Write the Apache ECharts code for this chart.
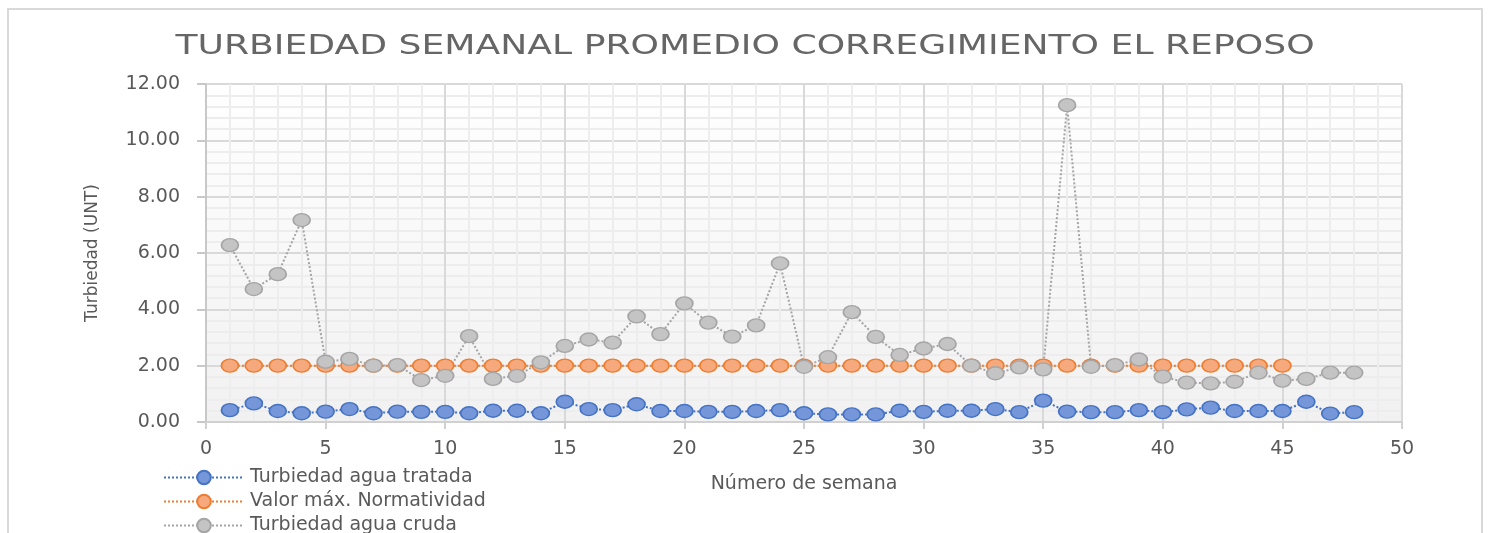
<!DOCTYPE html>
<html>
<head>
<meta charset="utf-8">
<script src="https://cdn.jsdelivr.net/npm/echarts@6/dist/echarts.min.js"></script>
<style>
  html, body { margin: 0; padding: 0; background: #fff; }
  #chart { width: 1488px; height: 533px; }
</style>
</head>
<body>
<div id="chart"></div>
<script>
// Turbiedad semanal promedio - corregimiento El Reposo
var titleText = 'TURBIEDAD SEMANAL PROMEDIO CORREGIMIENTO EL REPOSO';
var seriesNames = ['Turbiedad agua tratada', 'Valor máx. Normatividad', 'Turbiedad agua cruda'];

var weeks = [1, 2, 3, 4, 5, 6, 7, 8, 9, 10, 11, 12, 13, 14, 15, 16, 17, 18, 19, 20, 21, 22, 23, 24,
  25, 26, 27, 28, 29, 30, 31, 32, 33, 34, 35, 36, 37, 38, 39, 40, 41, 42, 43, 44, 45, 46, 47, 48];

var tratada = [0.42, 0.66, 0.39, 0.31, 0.37, 0.46, 0.31, 0.37, 0.36, 0.36,
  0.31, 0.40, 0.40, 0.31, 0.72, 0.46, 0.42, 0.63, 0.39, 0.39,
  0.36, 0.36, 0.39, 0.42, 0.31, 0.27, 0.27, 0.27, 0.40, 0.36,
  0.40, 0.40, 0.46, 0.35, 0.76, 0.37, 0.35, 0.35, 0.42, 0.35,
  0.45, 0.51, 0.39, 0.39, 0.39, 0.72, 0.30, 0.35];

var normatividad = [2, 2, 2, 2, 2, 2, 2, 2, 2, 2, 2, 2, 2, 2, 2, 2, 2, 2, 2, 2, 2, 2, 2,
  2, 2, 2, 2, 2, 2, 2, 2, 2, 2, 2, 2, 2, 2, 2, 2, 2, 2, 2, 2, 2, 2];

var cruda = [6.28, 4.72, 5.25, 7.17, 2.14, 2.24, 2.00, 2.02, 1.49, 1.64,
  3.05, 1.53, 1.64, 2.12, 2.70, 2.93, 2.82, 3.75, 3.12, 4.21,
  3.53, 3.03, 3.43, 5.63, 1.96, 2.30, 3.90, 3.02, 2.38, 2.61,
  2.77, 2.00, 1.73, 1.94, 1.87, 11.25, 1.96, 2.02, 2.22, 1.61,
  1.40, 1.37, 1.43, 1.75, 1.47, 1.53, 1.75, 1.75];

var txt = '#595959';
var font = 'DejaVu Sans';

function pairs(vals) {
  return vals.map(function (v, i) { return [weeks[i], v]; });
}

function lineSeries(name, vals, line, fill) {
  return {
    name: name,
    type: 'line',
    data: pairs(vals),
    symbol: 'circle',
    symbolSize: [17, 13],
    lineStyle: { color: line, width: 2, type: 'dotted' },
    itemStyle: { color: fill, borderColor: line, borderWidth: 1.5 },
    emphasis: { disabled: true }
  };
}

var chart = echarts.init(document.getElementById('chart'));
chart.setOption({
  animation: false,
  textStyle: { fontFamily: font },
  graphic: [
    {
      type: 'rect',
      shape: { x: 8, y: 9, width: 1474, height: 540 },
      style: { fill: 'none', stroke: '#d9d9d9', lineWidth: 2 },
      silent: true
    },
    {
      type: 'text',
      x: 745, y: 47,
      scaleX: 1.39,
      style: {
        text: titleText,
        fill: '#666666',
        font: 'normal 26px "DejaVu Sans"',
        textAlign: 'center',
        textVerticalAlign: 'middle'
      },
      silent: true
    }
  ],
  legend: {
    orient: 'vertical',
    left: 163,
    top: 468,
    height: 100,
    padding: 0,
    itemWidth: 80,
    itemHeight: 17,
    itemGap: 5,
    selectedMode: false,
    textStyle: { color: txt, fontSize: 19, fontFamily: font, padding: [0, 0, 0, 1] },
    data: seriesNames
  },
  grid: {
    left: 206, right: 86, top: 84, bottom: 111,
    show: true,
    borderWidth: 0,
    backgroundColor: new echarts.graphic.LinearGradient(0, 0, 0, 1, [
      { offset: 0, color: '#ffffff' },
      { offset: 1, color: '#f1f1f1' }
    ])
  },
  xAxis: {
    type: 'value',
    min: 0, max: 50, interval: 5,
    name: 'Número de semana',
    nameLocation: 'middle',
    nameGap: 53,
    nameTextStyle: { color: txt, fontSize: 19, fontFamily: font },
    axisLine: { onZero: false, lineStyle: { color: '#d0d0d0', width: 2 } },
    axisTick: { show: true, length: 7, lineStyle: { color: '#d0d0d0', width: 2 } },
    axisLabel: { color: txt, fontSize: 19, margin: 18 },
    splitLine: { show: true, lineStyle: { color: '#d9d9d9', width: 2 } },
    minorTick: { show: false, splitNumber: 5 },
    minorSplitLine: { show: true, lineStyle: { color: '#ededed', width: 2 } }
  },
  yAxis: {
    type: 'value',
    min: 0, max: 12, interval: 2,
    name: 'Turbiedad (UNT)',
    nameLocation: 'middle',
    nameGap: 105,
    nameTextStyle: { color: txt, fontSize: 17, fontFamily: font },
    axisLine: { show: true, lineStyle: { color: '#c8c8c8', width: 2 } },
    axisTick: { show: true, length: 9, lineStyle: { color: '#c8c8c8', width: 2 } },
    axisLabel: {
      color: txt, fontSize: 19, margin: 26,
      formatter: function (v) { return v.toFixed(2); }
    },
    splitLine: { show: true, lineStyle: { color: '#d9d9d9', width: 2 } },
    minorTick: { show: false, splitNumber: 5 },
    minorSplitLine: { show: true, lineStyle: { color: '#ededed', width: 2 } }
  },
  series: [
    lineSeries(seriesNames[0], tratada, '#4472c4', '#7596d8'),
    lineSeries(seriesNames[1], normatividad, '#ed7d31', '#f5a97c'),
    lineSeries(seriesNames[2], cruda, '#a5a5a5', '#c4c4c4')
  ]
});
window.addEventListener('resize', function () { chart.resize(); });
</script>
</body>
</html>
